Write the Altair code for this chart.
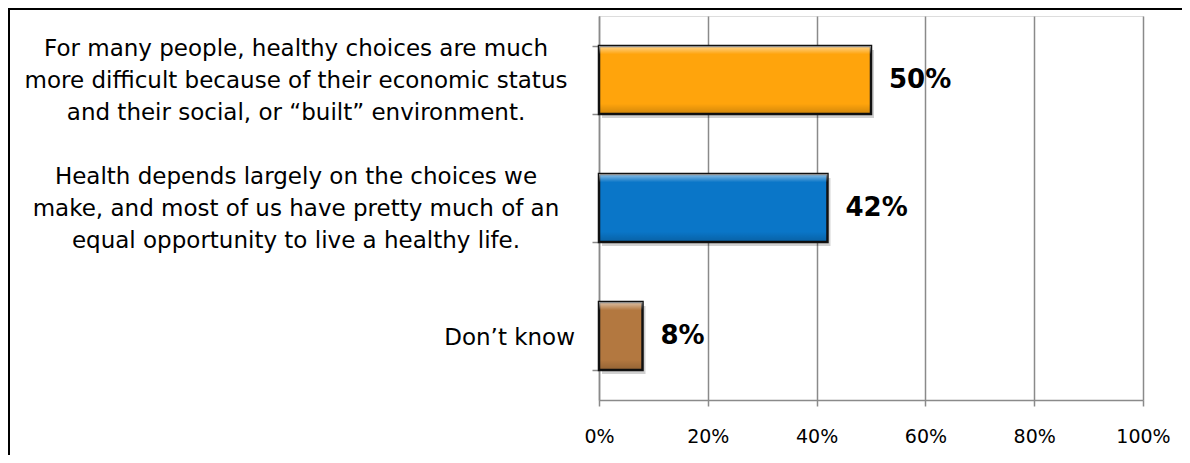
import altair as alt
import pandas as pd

categories = [
    "For many people, healthy choices are much more difficult because of their economic status and their social, or \u201cbuilt\u201d environment.",
    "Health depends largely on the choices we make, and most of us have pretty much of an equal opportunity to live a healthy life.",
    "Don\u2019t know",
]
label_lines = [
    ["For many people, healthy choices are much",
     "more difficult because of their economic status",
     "and their social, or \u201cbuilt\u201d environment."],
    ["Health depends largely on the choices we",
     "make, and most of us have pretty much of an",
     "equal opportunity to live a healthy life."],
    ["Don\u2019t know"],
]
values = [50, 42, 8]
colors = ["#FFA40C", "#0A76C8", "#B37840"]
tick_values = [0, 20, 40, 60, 80, 100]

df = pd.DataFrame({
    "cat": categories,
    "lines": label_lines,
    "value": values,
    "color": colors,
    "nlines": [len(l) for l in label_lines],
})

W, H = 544, 384
PAD_L, PAD_T, PAD_R, PAD_B = 591, 8, 39, 55
FONT = "DejaVu Sans"

y_enc = alt.Y("cat:N", sort=categories,
              scale=alt.Scale(paddingInner=0.47, paddingOuter=0.235),
              axis=alt.Axis(title=None, labels=False, tickBand="extent",
                            tickSize=7, tickColor="#8a8a8a", tickWidth=1.5,
                            domainColor="#8a8a8a", domainWidth=1.5, grid=False))
x_scale = alt.Scale(domain=[0, 100], nice=False)
x_enc = alt.X("value:Q", scale=x_scale,
              axis=alt.Axis(title=None, values=tick_values,
                            labelExpr="datum.value + '%'",
                            labelFont=FONT, labelFontSize=19, labelColor="#000000",
                            labelFlush=False,
                            labelPadding=21, tickSize=6, tickColor="#8a8a8a",
                            tickWidth=1.5, domainColor="#8a8a8a", domainWidth=1.5,
                            grid=True, gridColor="#8a8a8a", gridWidth=1.5))

base = alt.Chart(df)

shadow = base.mark_bar(color="#000000", opacity=0.18, xOffset=3, yOffset=4).encode(
    x=alt.X("value:Q", scale=x_scale), y=y_enc)

bars = base.mark_bar(stroke="#111111", strokeWidth=2.5).encode(
    x=x_enc, y=y_enc,
    color=alt.Color("color:N", scale=None))

bevel = base.mark_bar(
    color=alt.Gradient(
        gradient="linear", x1=0, x2=0, y1=0, y2=1,
        stops=[
            alt.GradientStop(offset=0, color="rgba(255,255,255,0.55)"),
            alt.GradientStop(offset=0.12, color="rgba(255,255,255,0.0)"),
            alt.GradientStop(offset=0.85, color="rgba(0,0,0,0.0)"),
            alt.GradientStop(offset=1, color="rgba(0,0,0,0.18)"),
        ])
).encode(x=alt.X("value:Q", scale=x_scale), y=y_enc)

value_labels = base.mark_text(align="left", baseline="middle", dx=18,
                              font=FONT, fontSize=26, fontWeight="bold",
                              color="#000000").encode(
    x=alt.X("value:Q", scale=x_scale), y=y_enc,
    text=alt.Text("label:N")).transform_calculate(label="datum.value + '%'")

multi_labels = base.transform_filter("datum.nlines > 1").mark_text(
    align="center", baseline="middle", font=FONT, fontSize=23,
    lineHeight=32, dy=-31, color="#000000").encode(
    x=alt.value(-303), y=y_enc, text="lines")

single_labels = base.transform_filter("datum.nlines == 1").mark_text(
    align="right", baseline="middle", font=FONT, fontSize=23,
    dy=2, color="#000000").encode(
    x=alt.value(-24), y=y_enc, text="cat:N")

frame = alt.Data(values=[{"k": 1}])
top_border = alt.Chart(frame).mark_rule(color="#000000", strokeWidth=2).encode(
    x=alt.value(-PAD_L), x2=alt.value(W + PAD_R), y=alt.value(-PAD_T + 1))
left_border = alt.Chart(frame).mark_rule(color="#000000", strokeWidth=2).encode(
    x=alt.value(-PAD_L + 1), y=alt.value(-PAD_T), y2=alt.value(H + PAD_B))

chart = alt.layer(
    shadow, bars, bevel, value_labels, multi_labels, single_labels,
    top_border, left_border
).properties(
    width=W, height=H,
    autosize=alt.AutoSizeParams(type="none"),
    padding={"left": PAD_L, "top": PAD_T, "right": PAD_R, "bottom": PAD_B},
).configure_view(stroke=None).configure(background="#ffffff")

chart.save("out.html", embed_options={"renderer": "svg", "actions": False})
